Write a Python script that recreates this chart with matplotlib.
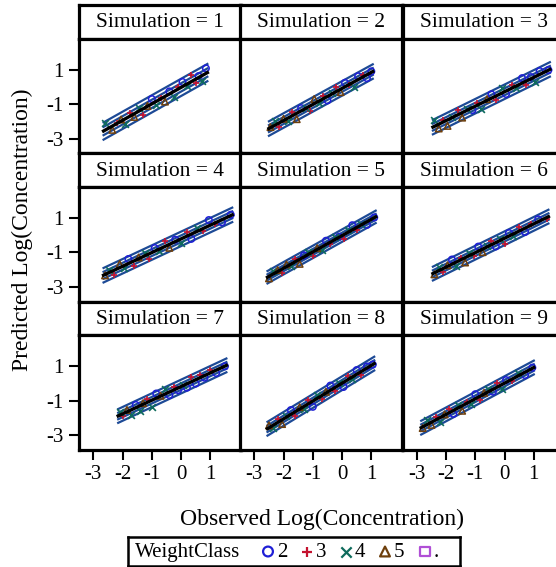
import numpy as np
import matplotlib
matplotlib.use("Agg")
from matplotlib import pyplot as plt

plt.rcParams['font.family'] = ['Liberation Serif', 'DejaVu Serif']

# observed / predicted log concentration, one list per simulation
obs = [
    [-2.6, -2.35, -2.2, -2.05, -1.9, -1.75, -1.6, -1.45, -1.3, -1.15, -1.0, -0.85,
     -0.7, -0.55, -0.4, -0.25, -0.1, 0.05, 0.2, 0.35, 0.5, 0.6, 0.7, 0.85],
    [-2.45, -2.3, -2.15, -2.0, -1.85, -1.7, -1.55, -1.4, -1.25, -1.1, -0.95, -0.8,
     -0.65, -0.5, -0.35, -0.2, -0.05, 0.1, 0.25, 0.4, 0.55, 0.7, 0.85, 1.0],
    [-2.4, -2.25, -2.1, -1.95, -1.8, -1.6, -1.45, -1.3, -1.1, -0.95, -0.8, -0.6,
     -0.45, -0.3, -0.1, 0.05, 0.25, 0.4, 0.6, 0.75, 0.9, 1.05, 1.2, 1.5],
    [-2.6, -2.45, -2.3, -2.1, -1.95, -1.8, -1.6, -1.45, -1.25, -1.1, -0.9, -0.75,
     -0.55, -0.4, -0.2, 0.0, 0.2, 0.35, 0.55, 0.75, 0.95, 1.15, 1.4, 1.7],
    [-2.5, -2.35, -2.2, -2.05, -1.9, -1.75, -1.6, -1.45, -1.3, -1.15, -1.0, -0.85,
     -0.7, -0.55, -0.4, -0.25, -0.1, 0.05, 0.2, 0.35, 0.5, 0.65, 0.85, 1.1],
    [-2.4, -2.25, -2.1, -1.95, -1.8, -1.65, -1.5, -1.35, -1.2, -1.05, -0.9, -0.75,
     -0.6, -0.45, -0.3, -0.15, 0.0, 0.15, 0.3, 0.5, 0.7, 0.9, 1.15, 1.45],
    [-2.1, -2.0, -1.85, -1.7, -1.55, -1.4, -1.3, -1.15, -1.0, -0.85, -0.7, -0.55,
     -0.4, -0.25, -0.1, 0.05, 0.2, 0.35, 0.5, 0.65, 0.8, 1.0, 1.2, 1.5],
    [-2.5, -2.35, -2.2, -2.05, -1.9, -1.75, -1.6, -1.45, -1.3, -1.15, -1.0, -0.85,
     -0.7, -0.55, -0.4, -0.25, -0.1, 0.05, 0.2, 0.35, 0.5, 0.65, 0.85, 1.05],
    [-2.8, -2.65, -2.5, -2.35, -2.2, -2.05, -1.9, -1.75, -1.6, -1.45, -1.3, -1.15,
     -1.0, -0.85, -0.7, -0.55, -0.4, -0.25, -0.1, 0.05, 0.25, 0.45, 0.7, 0.95],
]
pred = [
    [-2.08, -2.49, -2.09, -1.89, -2.14, -1.49, -1.74, -1.25, -1.65, -1.10, -0.70, -1.05,
     -0.65, -0.85, -0.26, -0.61, -0.01, 0.29, 0.04, 0.69, 0.24, 0.63, 0.33, 1.08],
    [-2.33, -1.99, -2.34, -1.85, -1.96, -1.47, -1.87, -1.23, -1.24, -1.40, -0.70, -0.96,
     -0.52, -0.78, -0.33, 0.01, -0.30, 0.24, 0.09, -0.02, 0.62, 0.67, 0.51, 0.90],
    [-1.94, -2.41, -1.89, -2.26, -1.73, -1.36, -1.78, -1.26, -1.34, -0.91, -1.28, -0.71,
     -0.43, -0.76, -0.09, -0.41, 0.11, -0.06, 0.51, 0.09, 0.57, 0.29, 0.92, 0.98],
    [-2.33, -2.01, -2.29, -1.67, -1.90, -1.38, -1.76, -1.29, -1.03, -1.40, -0.74, -0.92,
     -0.35, -0.73, -0.26, -0.45, 0.16, -0.21, 0.40, 0.22, 0.88, 0.64, 0.75, 1.19],
    [-2.50, -2.06, -2.02, -2.18, -1.69, -1.80, -1.35, -1.66, -1.17, -0.98, -1.19, -0.75,
     -0.86, -0.32, -0.53, -0.09, -0.09, -0.20, 0.29, 0.58, 0.32, 0.66, 0.60, 1.03],
    [-2.27, -1.84, -2.16, -1.74, -1.41, -1.79, -1.31, -1.58, -1.01, -1.18, -0.66, -0.98,
     -0.60, -0.33, -0.65, -0.23, -0.50, 0.13, -0.05, 0.47, 0.19, 0.66, 0.92, 0.97],
    [-1.68, -1.90, -1.53, -1.81, -1.24, -1.62, -1.14, -0.87, -1.35, -0.58, -0.71, -0.29,
     -0.67, -0.20, -0.38, -0.06, -0.24, 0.38, 0.00, 0.47, 0.34, 0.80, 0.61, 1.00],
    [-2.43, -2.57, -2.06, -2.35, -1.90, -1.54, -1.88, -1.37, -1.47, -0.96, -1.35, -0.69,
     -0.89, -0.48, -0.12, -0.46, 0.04, -0.20, 0.41, 0.27, 0.78, 0.48, 0.99, 1.10],
    [-2.58, -2.14, -2.40, -1.96, -2.22, -1.79, -1.50, -1.76, -1.27, -1.58, -1.05, -1.16,
     -0.62, -0.98, -0.54, -0.31, -0.47, 0.02, -0.29, 0.20, 0.13, 0.61, 0.49, 0.92],
]
weight_class = [
    [4, 5, 3, 5, 4, 3, 5, 4, 3, 5, 2, 4, 3, 5, 2, 4, 3, 2, 4, 3, 3, 2, 4, 2],
    [5, 4, 3, 5, 4, 3, 5, 2, 4, 3, 5, 4, 3, 2, 4, 3, 5, 2, 3, 4, 2, 3, 2, 2],
    [4, 5, 3, 5, 4, 3, 5, 4, 2, 3, 4, 5, 2, 3, 4, 2, 3, 4, 2, 3, 2, 4, 2, 2],
    [5, 4, 3, 5, 4, 2, 3, 5, 4, 3, 2, 4, 3, 5, 2, 4, 3, 2, 4, 3, 2, 3, 2, 2],
    [5, 4, 5, 3, 5, 4, 3, 5, 2, 4, 3, 5, 4, 2, 3, 4, 2, 3, 4, 2, 3, 4, 2, 2],
    [5, 4, 3, 5, 2, 4, 3, 5, 4, 3, 2, 5, 4, 3, 2, 4, 3, 2, 4, 3, 2, 3, 2, 3],
    [4, 3, 5, 4, 2, 4, 5, 3, 4, 2, 5, 4, 2, 3, 2, 4, 2, 3, 2, 3, 2, 3, 2, 2],
    [5, 4, 3, 5, 4, 2, 3, 5, 4, 3, 2, 4, 3, 5, 2, 3, 4, 2, 3, 4, 2, 3, 2, 2],
    [5, 4, 5, 3, 4, 5, 3, 2, 4, 5, 3, 4, 2, 3, 5, 4, 2, 3, 4, 2, 3, 4, 2, 2],
]
# half-widths of the outer and inner limit lines
outer_width = [0.5, 0.42, 0.42, 0.42, 0.36, 0.4, 0.4, 0.4, 0.4]
inner_width = [0.24, 0.2, 0.2, 0.2, 0.17, 0.19, 0.19, 0.19, 0.19]

classes = ['2', '3', '4', '5', '.']
styles = {
    '2': dict(marker='o', color='#1f1fd6', fill=False),
    '3': dict(marker='+', color='#c4122f', fill=True),
    '4': dict(marker='x', color='#0e6b5c', fill=True),
    '5': dict(marker='^', color='#6e3f0c', fill=False),
    '.': dict(marker='s', color='#b04fd6', fill=False),
}
band_color = '#1d4a96'

W, H = 556, 567
fig = plt.figure(figsize=(W / 100, H / 100), dpi=100)


def fig_rect(x0, y0, w, h):
    # pixel box (top-left origin) -> figure fraction rect
    return [x0 / W, 1 - (y0 + h) / H, w / W, h / H]


col_left = [79, 240, 402.5]
col_w = 162
row_top = [5, 153.3, 301.6]
head_h = 33.5
plot_h = 114.8
spine_w = 2.3

for k in range(9):
    r, c = divmod(k, 3)
    hx = fig.add_axes(fig_rect(col_left[c], row_top[r], col_w, head_h))
    hx.set_xticks([])
    hx.set_yticks([])
    for s in hx.spines.values():
        s.set_linewidth(spine_w)
    hx.text(0.5, 0.47, f"Simulation = {k + 1}", ha='center', va='center',
            fontsize=15.5, transform=hx.transAxes)

    ax = fig.add_axes(fig_rect(col_left[c], row_top[r] + head_h, col_w, plot_h))
    for s in ax.spines.values():
        s.set_linewidth(spine_w)
    ax.set_xlim(-3.49, 2.05)
    ax.set_ylim(-3.85, 2.81)

    x = np.array(obs[k])
    y = np.array(pred[k])
    b, a = np.polyfit(x, y, 1)
    xs = np.array([x.min() - 0.05, x.max() + 0.05])
    for off in (outer_width[k], -outer_width[k], inner_width[k], -inner_width[k]):
        ax.plot(xs, a + b * xs + off, color=band_color, lw=1.6, zorder=2)

    cls = np.array(weight_class[k])
    for name in classes[:-1]:
        m = cls == int(name)
        st = styles[name]
        if st['fill']:
            ax.scatter(x[m], y[m], marker=st['marker'], color=st['color'],
                       s=24, linewidths=1.2, zorder=3)
        else:
            ax.scatter(x[m], y[m], marker=st['marker'], facecolors='none',
                       edgecolors=st['color'], s=22, linewidths=1.1, zorder=3)
    ax.plot(xs, a + b * xs, color='black', lw=2.4, zorder=4)

    ax.tick_params(length=7, width=1.5, labelsize=15, pad=4)
    if c == 0:
        ax.set_yticks([-3, -1, 1], ['-3', '-1', '1'])
    else:
        ax.set_yticks([])
    if r == 2:
        ax.set_xticks([-3, -2, -1, 0, 1], ['-3', '-2', '-1', '0', '1'])
    else:
        ax.set_xticks([])

fig.text(322 / W, 1 - 519 / H, "Observed Log(Concentration)", ha='center',
         va='center', fontsize=17)
fig.text(22 / W, 1 - 230 / H, "Predicted Log(Concentration)", ha='center',
         va='center', rotation=90, fontsize=17)

# legend strip
lg = fig.add_axes(fig_rect(128, 537, 332, 29))
lg.set_xlim(128, 460)
lg.set_ylim(0, 1)
lg.set_xticks([])
lg.set_yticks([])
for s in lg.spines.values():
    s.set_linewidth(1.8)
lg.text(135, 0.48, "WeightClass", va='center', fontsize=15)
marker_x = [268, 307, 346, 385, 425]
for name, mx in zip(classes, marker_x):
    st = styles[name]
    if st['fill']:
        lg.scatter([mx], [0.5], marker=st['marker'], color=st['color'], s=55,
                   linewidths=1.6)
    else:
        lg.scatter([mx], [0.5], marker=st['marker'], facecolors='none',
                   edgecolors=st['color'], s=50, linewidths=1.6)
    lg.text(mx + 9, 0.48, name, va='center', fontsize=15)

fig.savefig('out.png', dpi=100)
